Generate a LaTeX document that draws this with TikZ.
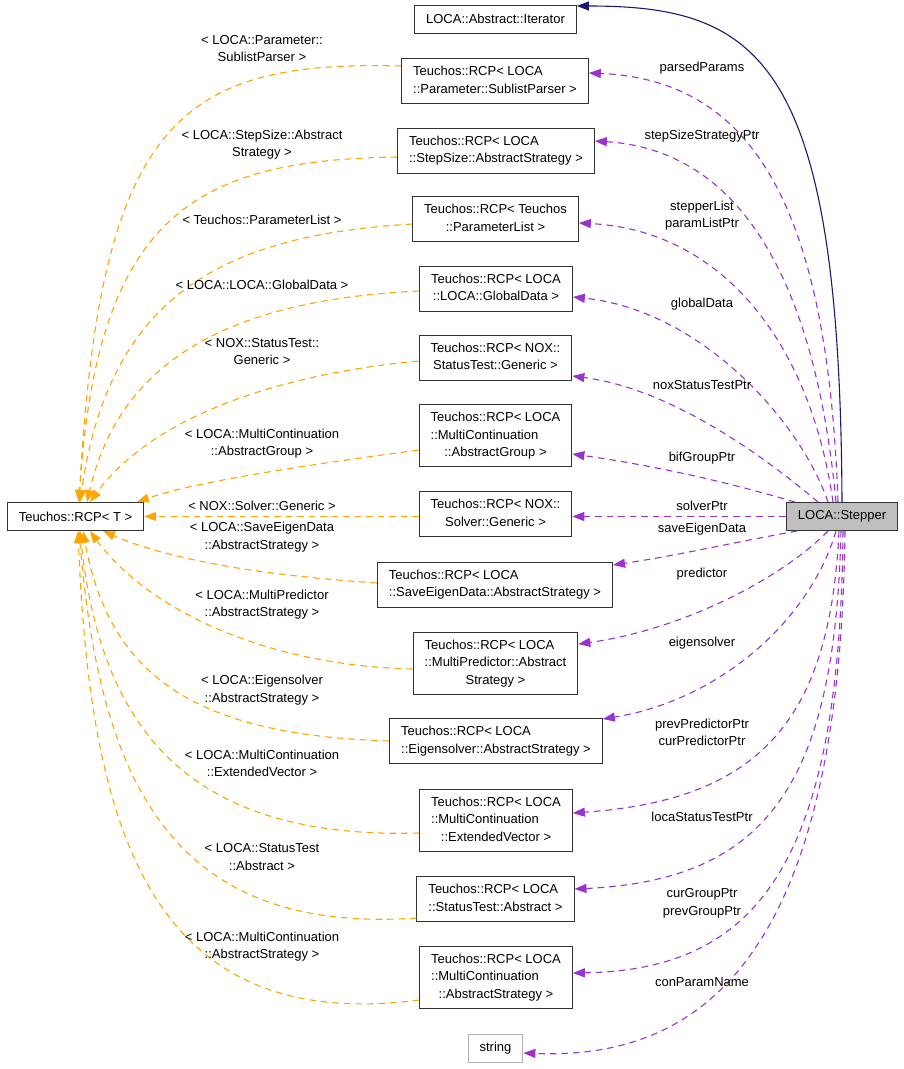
\documentclass[tikz,border=0pt]{standalone}
\usepackage{fontspec}
\setmainfont{Liberation Sans}
\usetikzlibrary{arrows.meta}

\definecolor{usecol}{HTML}{9A32CD}
\definecolor{tmplcol}{HTML}{FFA500}
\definecolor{inhcol}{HTML}{191970}
\newcommand{\lastc}[1]{\multicolumn{1}{@{}c@{}}{#1}}

\tikzset{
  cls/.style={draw=black!80, fill=white, line width=1pt, inner xsep=11.5pt, inner ysep=0pt,
    minimum height=28pt, font=\fontsize{13}{17.5}\selectfont},
  cls2/.style={cls, minimum height=45pt},
  cls3/.style={cls, minimum height=62pt},
  lbl/.style={inner sep=0pt, align=center, font=\fontsize{13}{17.5}\selectfont},
  usage/.style={draw=usecol, line width=1.1pt, dash pattern=on 6.5pt off 5pt,
    -{Triangle[length=12pt,width=9pt,fill=usecol]}},
  tmpl/.style={draw=tmplcol, line width=1.1pt, dash pattern=on 6.5pt off 5pt,
    -{Triangle[length=12pt,width=9pt,fill=tmplcol]}},
  inh/.style={draw=inhcol, line width=1.1pt, -{Triangle[length=12pt,width=9pt,fill=inhcol]}}
}

\begin{document}
\begin{tikzpicture}[x=1pt,y=-1pt]
  \useasboundingbox (0,0) rectangle (904,1069);

  % Class boxes, middle column
  \node[cls] (iter) at (495.5,19) {LOCA::Abstract::Iterator};
  \node[cls2] (sublist) at (495,81) {\begin{tabular}{@{}l@{}}Teuchos::RCP< LOCA\\\lastc{::Parameter::SublistParser >}\end{tabular}};
  \node[cls2] (stepsize) at (496,150.5) {\begin{tabular}{@{}l@{}}Teuchos::RCP< LOCA\\\lastc{::StepSize::AbstractStrategy >}\end{tabular}};
  \node[cls2] (plist) at (495.5,219) {\begin{tabular}{@{}l@{}}Teuchos::RCP< Teuchos\\\lastc{::ParameterList >}\end{tabular}};
  \node[cls2] (gdata) at (496,288.5) {\begin{tabular}{@{}l@{}}Teuchos::RCP< LOCA\\\lastc{::LOCA::GlobalData >}\end{tabular}};
  \node[cls2] (noxst) at (495.5,357.5) {\begin{tabular}{@{}l@{}}Teuchos::RCP< NOX::\\\lastc{StatusTest::Generic >}\end{tabular}};
  \node[cls3] (mcgroup) at (495.5,435.5) {\begin{tabular}{@{}l@{}}Teuchos::RCP< LOCA\\::MultiContinuation\\\lastc{::AbstractGroup >}\end{tabular}};
  \node[cls2] (noxsolver) at (495.5,514) {\begin{tabular}{@{}l@{}}Teuchos::RCP< NOX::\\\lastc{Solver::Generic >}\end{tabular}};
  \node[cls2] (saveeig) at (495,584.5) {\begin{tabular}{@{}l@{}}Teuchos::RCP< LOCA\\\lastc{::SaveEigenData::AbstractStrategy >}\end{tabular}};
  \node[cls3] (mpred) at (495.5,663) {\begin{tabular}{@{}l@{}}Teuchos::RCP< LOCA\\::MultiPredictor::Abstract\\\lastc{Strategy >}\end{tabular}};
  \node[cls2] (eigsolv) at (496,741) {\begin{tabular}{@{}l@{}}Teuchos::RCP< LOCA\\\lastc{::Eigensolver::AbstractStrategy >}\end{tabular}};
  \node[cls3] (extvec) at (496,820) {\begin{tabular}{@{}l@{}}Teuchos::RCP< LOCA\\::MultiContinuation\\\lastc{::ExtendedVector >}\end{tabular}};
  \node[cls2] (stest) at (495.5,899) {\begin{tabular}{@{}l@{}}Teuchos::RCP< LOCA\\\lastc{::StatusTest::Abstract >}\end{tabular}};
  \node[cls3] (mcstrat) at (496,977) {\begin{tabular}{@{}l@{}}Teuchos::RCP< LOCA\\::MultiContinuation\\\lastc{::AbstractStrategy >}\end{tabular}};
  \node[cls, draw=black!30] (str) at (495.5,1048.5) {string};

  % Outer boxes
  \node[cls] (rcp) at (75.5,516.5) {Teuchos::RCP< T >};
  \node[cls, fill=black!25] (stepper) at (842,516.5) {LOCA::Stepper};

  % Inheritance
  \draw[inh] (stepper.north) .. controls (840,60) and (760,6) .. (iter.east |- 0,6);

  % Member usage (purple)
  \draw[usage] (stepper.north -| 838,0) .. controls (828,220) and (760,80) .. (sublist.east |- 0,73);
  \draw[usage] (stepper.north -| 836,0) .. controls (815,280) and (740,150) .. (stepsize.east |- 0,141);
  \draw[usage] (stepper.north -| 833,0) .. controls (810,340) and (720,230) .. (plist.east |- 0,223);
  \draw[usage] (stepper.north -| 828,0) .. controls (800,420) and (700,310) .. (gdata.east |- 0,297);
  \draw[usage] (stepper.north -| 818,0) .. controls (780,470) and (680,390) .. (noxst.east |- 0,376);
  \draw[usage] (stepper.north -| 795,0) .. controls (720,480) and (650,465) .. (mcgroup.east |- 0,454);
  \draw[usage] (stepper.west) -- (noxsolver.east |- stepper.west);
  \draw[usage] (stepper.south -| 797,0) .. controls (720,545) and (680,555) .. (saveeig.east |- 0,565);
  \draw[usage] (stepper.south -| 828,0) .. controls (780,580) and (680,630) .. (mpred.east |- 0,644);
  \draw[usage] (stepper.south -| 836,0) .. controls (810,620) and (720,700) .. (eigsolv.east |- 0,719);
  \draw[usage] (stepper.south -| 839,0) .. controls (830,720) and (760,800) .. (extvec.east |- 0,813);
  \draw[usage] (stepper.south -| 841,0) .. controls (835,780) and (770,880) .. (stest.east |- 0,889);
  \draw[usage] (stepper.south -| 843,0) .. controls (840,860) and (760,970) .. (mcstrat.east |- 0,973);
  \draw[usage] (stepper.south -| 845,0) .. controls (840,960) and (700,1060) .. (str.east |- 0,1053);

  % Template instances (orange)
  \draw[tmpl] (sublist.west |- 0,66) .. controls (180,60) and (100,120) .. (rcp.north -| 79,0);
  \draw[tmpl] (stepsize.west |- 0,157) .. controls (195,160) and (97,215) .. (rcp.north -| 79,0);
  \draw[tmpl] (plist.west |- 0,224) .. controls (230,235) and (110,290) .. (rcp.north -| 80,0);
  \draw[tmpl] (gdata.west |- 0,291) .. controls (230,300) and (120,360) .. (rcp.north -| 87,0);
  \draw[tmpl] (noxst.west |- 0,361) .. controls (270,375) and (150,420) .. (rcp.north -| 90,0);
  \draw[tmpl] (mcgroup.west |- 0,450) .. controls (330,462) and (200,480) .. (rcp.north -| 137,0);
  \draw[tmpl] (noxsolver.west |- rcp.east) -- (rcp.east);
  \draw[tmpl] (saveeig.west |- 0,583) .. controls (260,575) and (170,560) .. (rcp.south -| 103,0);
  \draw[tmpl] (mpred.west |- 0,669) .. controls (250,665) and (140,600) .. (rcp.south -| 90,0);
  \draw[tmpl] (eigsolv.west |- 0,741) .. controls (200,735) and (110,680) .. (rcp.south -| 83,0);
  \draw[tmpl] (extvec.west |- 0,833) .. controls (180,840) and (100,720) .. (rcp.south -| 80,0);
  \draw[tmpl] (stest.west |- 0,918) .. controls (170,935) and (100,780) .. (rcp.south -| 79,0);
  \draw[tmpl] (mcstrat.west |- 0,1000) .. controls (150,1035) and (90,830) .. (rcp.south -| 78,0);

  % Member names
  \node[lbl] (l1) at (702,68) {parsedParams};
  \node[lbl] (l2) at (702,136) {stepSizeStrategyPtr};
  \node[lbl] (l3) at (702,215.5) {stepperList\\paramListPtr};
  \node[lbl] (l4) at (702,304) {globalData};
  \node[lbl] (l5) at (702,385) {noxStatusTestPtr};
  \node[lbl] (l6) at (702,458) {bifGroupPtr};
  \node[lbl] (l7) at (702,506) {solverPtr};
  \node[lbl] (l8) at (702,529) {saveEigenData};
  \node[lbl] (l9) at (702,574) {predictor};
  \node[lbl] (l10) at (702,643) {eigensolver};
  \node[lbl] (l11) at (702,732.5) {prevPredictorPtr\\curPredictorPtr};
  \node[lbl] (l12) at (702,817) {locaStatusTestPtr};
  \node[lbl] (l13) at (702,903.5) {curGroupPtr\\prevGroupPtr};
  \node[lbl] (l14) at (702,982) {conParamName};

  % Template arguments
  \node[lbl] (t1) at (262,48.5) {< LOCA::Parameter::\\SublistParser >};
  \node[lbl] (t2) at (262,144.5) {< LOCA::StepSize::Abstract\\Strategy >};
  \node[lbl] (t3) at (262,220) {< Teuchos::ParameterList >};
  \node[lbl] (t4) at (262,285) {< LOCA::LOCA::GlobalData >};
  \node[lbl] (t5) at (262,351.5) {< NOX::StatusTest::\\Generic >};
  \node[lbl] (t6) at (262,443.5) {< LOCA::MultiContinuation\\::AbstractGroup >};
  \node[lbl] (t7) at (262,506) {< NOX::Solver::Generic >};
  \node[lbl] (t8) at (262,537) {< LOCA::SaveEigenData\\::AbstractStrategy >};
  \node[lbl] (t9) at (262,604.5) {< LOCA::MultiPredictor\\::AbstractStrategy >};
  \node[lbl] (t10) at (262,690) {< LOCA::Eigensolver\\::AbstractStrategy >};
  \node[lbl] (t11) at (262,763.5) {< LOCA::MultiContinuation\\::ExtendedVector >};
  \node[lbl] (t12) at (262,857) {< LOCA::StatusTest\\::Abstract >};
  \node[lbl] (t13) at (262,946.5) {< LOCA::MultiContinuation\\::AbstractStrategy >};

\end{tikzpicture}
\end{document}
